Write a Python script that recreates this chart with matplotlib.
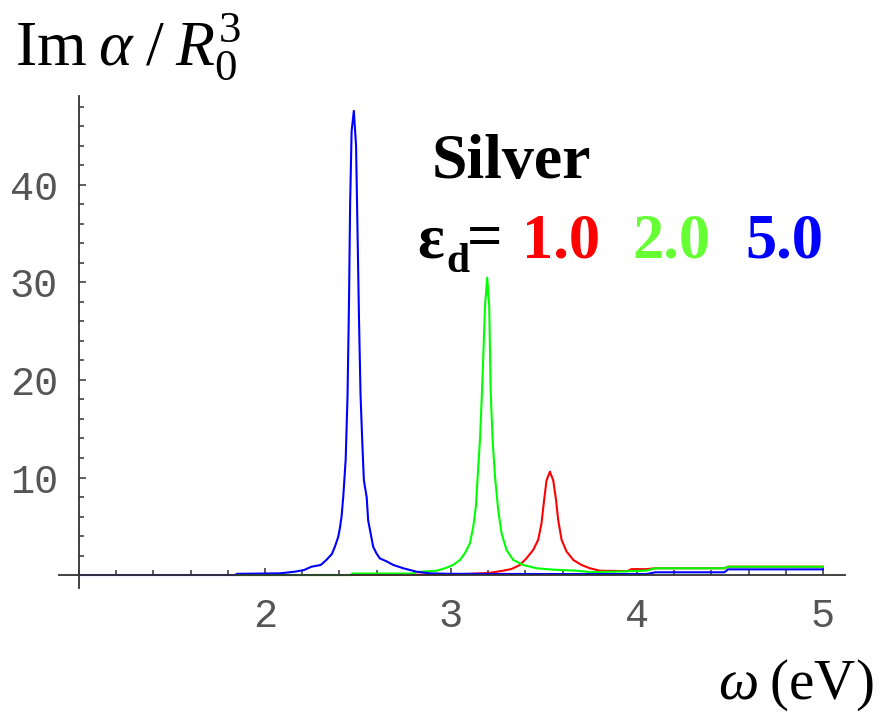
import matplotlib
matplotlib.use("Agg")
import matplotlib.pyplot as plt
from matplotlib.ticker import MultipleLocator, FixedLocator

plt.rcParams["mathtext.fontset"] = "custom"
plt.rcParams["mathtext.rm"] = "Liberation Serif"
plt.rcParams["mathtext.it"] = "Liberation Serif:italic"
plt.rcParams["mathtext.bf"] = "Liberation Serif:bold"

# Im(alpha)/R0^3 for a silver sphere, three host dielectric constants
omega_red = [1.84, 2.46, 3.00, 3.20, 3.281, 3.326, 3.371, 3.406, 3.442, 3.469,
             3.487, 3.501, 3.514, 3.532, 3.550, 3.565, 3.577, 3.595, 3.622,
             3.658, 3.702, 3.747, 3.801, 3.95, 3.97, 4.05, 4.10, 4.47, 4.49, 5.00]
im_red = [0.0, 0.0, 0.05, 0.2, 0.44, 0.62, 1.03, 1.71, 2.56, 3.6,
          5.3, 7.7, 9.7, 10.6, 9.7, 7.7, 5.6, 3.6, 2.4,
          1.54, 1.03, 0.69, 0.44, 0.4, 0.6, 0.6, 0.69, 0.69, 0.85, 0.85]

omega_green = [1.84, 2.46, 2.47, 2.80, 2.81, 2.923, 2.968, 3.012, 3.048, 3.075,
               3.102, 3.120, 3.134, 3.147, 3.156, 3.165, 3.174, 3.183, 3.195,
               3.206, 3.213, 3.224, 3.237, 3.254, 3.272, 3.299, 3.335, 3.389,
               3.461, 3.55, 3.676, 3.75, 3.90, 4.05, 4.10, 4.47, 4.49, 5.00]
im_green = [0.0, 0.0, 0.15, 0.15, 0.3, 0.44, 0.69, 1.03, 1.54, 2.23,
            3.25, 4.95, 7.0, 11.1, 13.8, 17.9, 22.4, 27.5, 30.5,
            27.5, 19.3, 13.8, 10.1, 6.7, 4.3, 2.56, 1.54, 1.03,
            0.69, 0.55, 0.44, 0.3, 0.35, 0.45, 0.69, 0.69, 0.85, 0.85]

omega_blue = [1.00, 1.84, 1.85, 2.08, 2.16, 2.21, 2.25, 2.30, 2.33, 2.36,
              2.376, 2.394, 2.403, 2.412, 2.421, 2.434, 2.444, 2.452, 2.458,
              2.466, 2.478, 2.490, 2.498, 2.506, 2.514, 2.523, 2.532, 2.547,
              2.555, 2.568, 2.582, 2.600, 2.618, 2.654, 2.690, 2.744, 2.815,
              2.887, 3.00, 3.50, 4.05, 4.10, 4.47, 4.49, 5.00]
im_blue = [0.0, 0.0, 0.12, 0.17, 0.34, 0.51, 0.85, 1.03, 1.54, 2.15,
           2.9, 3.9, 4.8, 6.0, 8.0, 11.8, 18.3, 28.0, 38.0,
           45.5, 47.6, 44.0, 35.0, 26.0, 18.5, 13.8, 9.7, 8.0,
           5.6, 4.3, 2.9, 2.2, 1.7, 1.4, 1.03, 0.69, 0.34,
           0.17, 0.12, 0.1, 0.1, 0.28, 0.28, 0.58, 0.58]

x_major = [2, 3, 4, 5]
y_major = [10, 20, 30, 40]

fig = plt.figure(figsize=(8.81, 7.14), dpi=100)
ax = fig.add_axes([0.067, 0.1765, 0.892, 0.6887])

ax.plot(omega_red, im_red, color="#ff0000", lw=1.5)
ax.plot(omega_green, im_green, color="#00ff00", lw=1.5)
ax.plot(omega_blue, im_blue, color="#0000ff", lw=1.5)

ax.set_xlim(0.893, 5.118)
ax.set_ylim(-1.33, 49.1)

# axes cross at (1, 0) like a Mathematica plot
for s in ("top", "right"):
    ax.spines[s].set_visible(False)
ax.spines["left"].set_position(("data", 1))
ax.spines["bottom"].set_position(("data", 0))
for s in ("left", "bottom"):
    ax.spines[s].set_color("#333333")
    ax.spines[s].set_linewidth(1.3)

ax.xaxis.set_major_locator(FixedLocator(x_major))
ax.xaxis.set_minor_locator(MultipleLocator(0.2))
ax.yaxis.set_major_locator(FixedLocator(y_major))
ax.yaxis.set_minor_locator(MultipleLocator(2))
ax.tick_params(which="both", direction="in", color="#333333", width=1.1)
ax.tick_params(which="major", length=5)
ax.tick_params(which="minor", length=3.5)
ax.tick_params(axis="x", which="major", pad=16)
ax.tick_params(axis="y", which="major", pad=15)
for lab in ax.get_xticklabels() + ax.get_yticklabels():
    lab.set_fontfamily("Liberation Mono")
    lab.set_fontsize(29)
    lab.set_color("#555555")

W, H = 881.0, 714.0

def put(px, py, s, **kw):
    fig.text(px / W, 1 - py / H, s, va="baseline", ha="left", **kw)

put(15, 65, r"$\mathrm{Im}\;\alpha\;/\;R_0^3$", fontsize=46)
fig.text(874 / W, 1 - 699 / H, r"$\omega\;\mathrm{(eV)}$", fontsize=41,
         ha="right", va="baseline")

serif = dict(family="Liberation Serif", weight="bold")
put(432, 178, "Silver", fontsize=46, **serif)
put(417, 257, "ε", fontsize=45, **serif)
put(446, 272, "d", fontsize=30, **serif)
put(467, 257, "=", fontsize=45, **serif)
put(522, 257, "1.0", fontsize=45, color="#ff0000", **serif)
put(632, 257, "2.0", fontsize=45, color="#66ff33", **serif)
put(745, 257, "5.0", fontsize=45, color="#0000ff", **serif)

fig.savefig("out.png", dpi=100)
